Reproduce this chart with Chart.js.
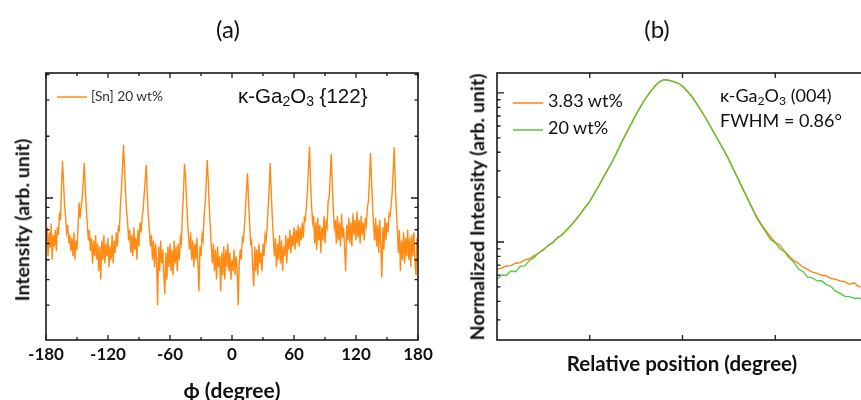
<!DOCTYPE html>
<html><head><meta charset="utf-8">
<script src="https://cdn.jsdelivr.net/npm/chart.js@4.4.0/dist/chart.umd.min.js"></script>
<style>
html,body{margin:0;padding:0;background:#fff;overflow:hidden;width:861px;height:400px;position:relative}
canvas{position:absolute;top:0}
#ca{left:0}
#cb{left:440px}
.t{position:absolute;white-space:nowrap;line-height:1;color:#111;font-family:Lato,'DejaVu Sans',sans-serif}
.c{transform:translate(-50%,-50%)}
.l{transform:translate(0,-50%)}
.r{transform:translate(-50%,-50%) rotate(-90deg)}
.b{font-weight:bold}
sub{font-size:0.68em;vertical-align:-0.22em;line-height:0}
</style></head><body>
<canvas id="ca" width="440" height="400"></canvas>
<canvas id="cb" width="440" height="400"></canvas>

<div class="t c" style="left:228px;top:29px;font-size:24px">(a)</div>
<div class="t c" style="left:657px;top:29px;font-size:24px">(b)</div>
<div class="t r b" style="left:22px;top:220px;font-size:19.5px">Intensity (arb. unit)</div>
<div class="t c b" style="left:232px;top:389px;font-size:21px">&#x3D5; (degree)</div>
<div class="t l" style="left:91px;top:96px;font-size:13.7px;color:#333">[Sn] 20 wt%</div>
<div class="t l" style="left:238px;top:96px;font-size:20.5px;font-family:'Liberation Sans',Arial,sans-serif">&#x3BA;-Ga<sub>2</sub>O<sub>3</sub> {122}</div>

<div class="t r b" style="left:477px;top:207px;font-size:19.5px">Normalized Intensity (arb. unit)</div>
<div class="t c b" style="left:682px;top:363px;font-size:20.5px">Relative position (degree)</div>
<div class="t l" style="left:548px;top:100px;font-size:18px">3.83 wt%</div>
<div class="t l" style="left:548px;top:127px;font-size:18px">20 wt%</div>
<div class="t l" style="left:720px;top:95px;font-size:18px">&#x3BA;-Ga<sub>2</sub>O<sub>3</sub> (004)</div>
<div class="t l" style="left:720px;top:120px;font-size:18px">FWHM = 0.86&#xB0;</div>

<script>
// ---------- Data: panel (a) phi scan, [Sn] 20 wt% ----------
const phiStart = -180, phiStep = 1;
const phiTicks = [-180, -120, -60, 0, 60, 120, 180];
const intensitySn20 = [
 60,72,52,68,57,75,50,66,58,70,
 55,72,66,85,78,112,152,118,92,80,
 68,74,60,66,55,64,52,68,50,62,
 56,72,95,80,90,100,118,148,112,88,
 74,62,70,55,64,48,62,52,66,50,
 60,44,58,40,62,50,66,48,60,52,
 64,46,58,50,66,48,62,54,68,58,
 72,70,92,110,140,182,140,105,86,76,
 62,70,54,66,52,72,56,64,50,70,
 58,76,68,80,88,104,122,145,106,82,
 70,58,66,50,62,46,60,50,30,58,
 44,62,48,56,42,34,54,40,58,46,
 60,44,56,42,62,48,58,44,60,50,
 64,60,84,105,147,128,98,78,64,56,
 68,50,62,46,60,50,64,48,35,58,
 52,66,62,82,94,118,153,122,90,72,
 58,48,60,44,56,40,58,46,52,35,
 54,42,58,40,56,46,60,44,54,40,
 50,44,56,42,52,46,30,48,56,50,
 64,62,72,88,108,132,98,76,60,62,
 46,37,58,44,56,42,60,48,54,44,
 60,52,66,62,72,90,112,148,106,80,
 64,52,64,46,60,50,66,48,62,44,
 58,52,66,48,64,56,70,54,66,58,
 72,56,70,60,74,58,72,62,76,64,
 80,78,90,108,140,178,120,92,76,82,
 60,76,56,80,62,74,54,72,62,82,
 60,76,72,96,100,126,164,118,88,72,
 78,60,82,62,76,58,84,64,72,56,
 44,74,62,80,60,76,58,84,66,78,
 62,86,64,78,60,82,66,76,62,80,
 74,90,96,120,166,124,92,74,62,80,
 58,74,54,78,60,41,72,56,80,62,
 76,68,84,82,92,106,136,177,118,88,
 70,54,70,44,62,50,68,48,64,52,
 70,50,64,46,66,52,68,50,42,64,56
];

// ---------- Data: panel (b) rocking curves ----------
const relStart = -2, relStep = 0.05;
const sn383 = [
 0.0656,0.0668,0.0690,0.0695,0.0720,0.0728,0.0755,0.0772,0.0810,0.0840,
 0.0895,0.0940,0.0995,0.1060,0.1120,0.1200,0.1290,0.1420,0.1540,0.1720,
 0.186,0.214,0.238,0.276,0.312,0.352,0.410,0.478,0.548,0.628,
 0.718,0.815,0.915,1.010,1.105,1.186,1.225,1.218,1.195,1.165,
 1.112,1.030,0.950,0.856,0.764,0.680,0.600,0.528,0.465,0.410,
 0.358,0.308,0.266,0.229,0.198,0.171,0.148,0.132,0.119,0.108,
 0.0995,0.0950,0.0868,0.0805,0.0750,0.0718,0.0678,0.0655,0.0628,0.0615,
 0.0598,0.0592,0.0570,0.0562,0.0548,0.0542,0.0520,0.0532,0.0502,0.0500,
 0.0490
];
const sn20 = [
 0.0562,0.0600,0.0598,0.0640,0.0632,0.0686,0.0690,0.0752,0.0785,0.0850,
 0.0880,0.0950,0.0985,0.1070,0.1110,0.1210,0.1300,0.1400,0.1550,0.1700,
 0.188,0.211,0.240,0.272,0.309,0.355,0.407,0.473,0.543,0.624,
 0.716,0.813,0.912,1.012,1.109,1.189,1.227,1.216,1.191,1.161,
 1.109,1.023,0.944,0.851,0.759,0.676,0.596,0.525,0.462,0.407,
 0.355,0.305,0.263,0.226,0.195,0.168,0.145,0.129,0.116,0.104,
 0.0989,0.0900,0.0862,0.0780,0.0735,0.0660,0.0632,0.0580,0.0575,0.0548,
 0.0550,0.0518,0.0505,0.0468,0.0452,0.0432,0.0430,0.0418,0.0420,0.0410,
 0.0405
];
const relTicks = [-1, 0, 1];

// ---------- build point tables ----------
const ptsA = intensitySn20.map((v, i) => ({x: phiStart + i * phiStep, y: v}));
const pts383 = sn383.map((v, i) => ({x: +(relStart + i * relStep).toFixed(2), y: v}));
const pts20 = sn20.map((v, i) => ({x: +(relStart + i * relStep).toFixed(2), y: v}));

const FONT = "Lato, 'DejaVu Sans', sans-serif";
const ORANGE_A = '#ff8a14', ORANGE_B = '#ff7f0e', GREEN_B = '#4fca38';

const framePlugin = {
  id: 'frame',
  afterDatasetsDraw(chart, args, o) {
    const {ctx, chartArea: a} = chart;
    const xs = chart.scales.x, ys = chart.scales.y;
    ctx.save();
    ctx.strokeStyle = '#1a1a1a';
    ctx.lineWidth = 1.3;
    ctx.beginPath();
    const tickX = (v, len) => {
      const p = xs.getPixelForValue(v);
      ctx.moveTo(p, a.bottom); ctx.lineTo(p, a.bottom - len);
      ctx.moveTo(p, a.top); ctx.lineTo(p, a.top + len);
    };
    o.xMajor.forEach(v => tickX(v, 5));
    o.xMinor.forEach(v => tickX(v, 3));
    for (let d = o.dec[0]; d <= o.dec[1]; d++) {
      for (let k = 1; k <= 9; k++) {
        const v = k * Math.pow(10, d);
        if (v < ys.min || v > ys.max) continue;
        const p = ys.getPixelForValue(v);
        const len = k === 1 ? 7 : 3.5;
        ctx.moveTo(a.left, p); ctx.lineTo(a.left + len, p);
        ctx.moveTo(a.right, p); ctx.lineTo(a.right - len, p);
      }
    }
    ctx.stroke();
    ctx.lineWidth = 1.6;
    ctx.strokeRect(a.left, a.top, a.right - a.left, a.bottom - a.top);
    o.samples.forEach(s => {
      ctx.strokeStyle = s.color; ctx.lineWidth = 1.5;
      ctx.beginPath(); ctx.moveTo(s.x0, s.y); ctx.lineTo(s.x1, s.y); ctx.stroke();
    });
    ctx.restore();
  }
};

const common = {
  responsive: false,
  devicePixelRatio: 1,
  animation: false,
  events: [],
  elements: {point: {radius: 0}, line: {tension: 0}},
};

new Chart(document.getElementById('ca'), {
  type: 'line',
  data: {datasets: [{label: '[Sn] 20 wt%', data: ptsA, borderColor: ORANGE_A, borderWidth: 1.4, fill: false}]},
  options: Object.assign({}, common, {
    layout: {padding: {top: 73, right: 22, left: 0, bottom: 0}},
    plugins: {
      legend: {display: false}, tooltip: {enabled: false},
      frame: {xMajor: phiTicks, xMinor: [-150, -90, -30, 30, 90, 150], dec: [1, 2],
              samples: [{x0: 57, x1: 87, y: 97, color: ORANGE_A}]}
    },
    scales: {
      x: {
        type: 'linear', min: -180, max: 180,
        afterFit: s => { s.height = 60; },
        afterBuildTicks: s => { s.ticks = phiTicks.map(v => ({value: v})); },
        grid: {display: false, drawTicks: false}, border: {display: false},
        ticks: {font: {family: FONT, size: 17, weight: 'bold'}, color: '#111', padding: 4,
                maxRotation: 0, autoSkip: false}
      },
      y: {
        type: 'logarithmic', min: 20.3, max: 407,
        afterFit: s => { s.width = 46; },
        grid: {display: false, drawTicks: false}, border: {display: false},
        ticks: {display: false}
      }
    }
  }),
  plugins: [framePlugin]
});

new Chart(document.getElementById('cb'), {
  type: 'line',
  data: {datasets: [
    {label: '3.83 wt%', data: pts383, borderColor: ORANGE_B, borderWidth: 1.3, fill: false, order: 1},
    {label: '20 wt%', data: pts20, borderColor: GREEN_B, borderWidth: 1.3, fill: false, order: 0}
  ]},
  options: Object.assign({}, common, {
    layout: {padding: {top: 73, right: 12, left: 0, bottom: 0}},
    plugins: {
      legend: {display: false}, tooltip: {enabled: false},
      frame: {xMajor: relTicks, xMinor: [], dec: [-2, 0],
              samples: [{x0: 73, x1: 103, y: 103, color: ORANGE_B}, {x0: 73, x1: 103, y: 130, color: GREEN_B}]}
    },
    scales: {
      x: {
        type: 'linear', min: -2, max: 2,
        afterFit: s => { s.height = 60; },
        grid: {display: false, drawTicks: false}, border: {display: false},
        ticks: {display: false}
      },
      y: {
        type: 'logarithmic', min: 0.022, max: 1.36,
        afterFit: s => { s.width = 57; },
        grid: {display: false, drawTicks: false}, border: {display: false},
        ticks: {display: false}
      }
    }
  }),
  plugins: [framePlugin]
});
</script>
</body></html>
